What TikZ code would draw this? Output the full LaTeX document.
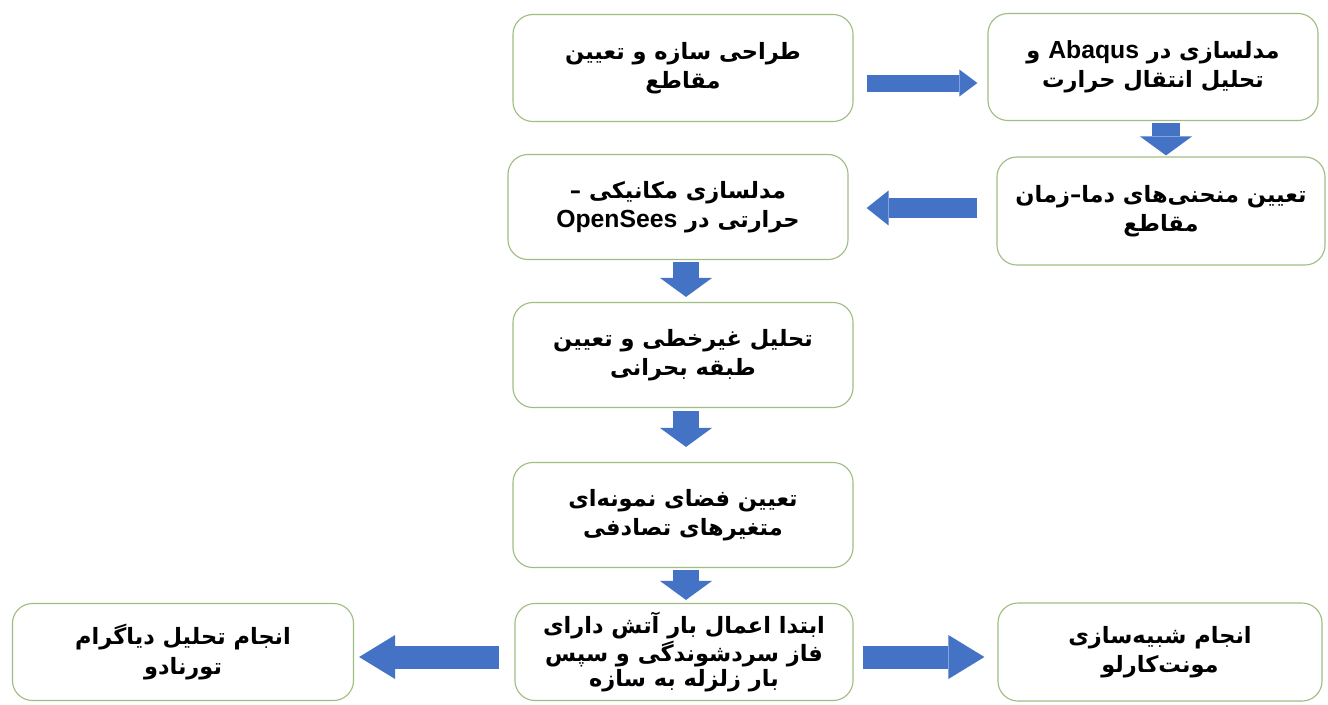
\documentclass[tikz,border=0pt]{standalone}
\usepackage{fontspec}
\usetikzlibrary{arrows.meta,calc}
\TeXXeTstate=1
\newfontfamily\fafont[Script=Arabic]{DejaVu Sans}
\newfontfamily\enfont[Scale=1.1]{Liberation Sans}
\newcommand{\fa}[1]{\beginR#1\endR}
\newcommand{\en}[1]{\beginL{\enfont #1}\endL{}}
\definecolor{arrowblue}{RGB}{68,114,196}
\definecolor{boxgreen}{RGB}{160,190,130}
\tikzset{
  stage/.style={draw=boxgreen, line width=0.8pt, rounded corners=0.5cm, fill=white, align=center, inner sep=2pt, font=\fafont\bfseries\fontsize{16}{21}\selectfont},
  flow/.style n args={3}{draw=arrowblue, line width=#1, -{Triangle[width=#2,length=#3,line width=0pt]}}
}
\begin{document}
\begin{tikzpicture}[x=0.025cm, y=-0.025cm]

  \fill[white] (0,0) rectangle (1328,704);
  \useasboundingbox (0,0) rectangle (1328,704);

  % Top row
  \node[stage, minimum width=8.5cm, minimum height=2.675cm] (design) at (683,68) {\fa{طراحی سازه و تعیین}\\\fa{مقاطع}};
  \node[stage, minimum width=8.25cm, minimum height=2.675cm] (abaqus) at (1153,67) {\fa{مدلسازی در \en{Abaqus} و}\\\fa{تحلیل انتقال حرارت}};

  % Second row
  \node[stage, minimum width=8.5cm, minimum height=2.625cm] (opensees) at (678,207) {\fa{مدلسازی مکانیکی –}\\\fa{حرارتی در \en{OpenSees}}};
  \node[stage, minimum width=8.2cm, minimum height=2.7cm] (curves) at (1161,211) {\fa{تعیین منحنی^^^^200cهای دما–زمان}\\\fa{مقاطع}};

  % Middle column
  \node[stage, minimum width=8.5cm, minimum height=2.625cm] (nonlin) at (683,355) {\fa{تحلیل غیرخطی و تعیین}\\\fa{طبقه بحرانی}};
  \node[stage, minimum width=8.5cm, minimum height=2.625cm] (sample) at (683,515) {\fa{تعیین فضای نمونه^^^^200cای}\\\fa{متغیرهای تصادفی}};

  % Bottom row
  \node[stage, font=\fafont\bfseries\fontsize{16}{18}\selectfont, minimum width=8.45cm, minimum height=2.425cm] (fire) at (684,652) {\fa{ابتدا اعمال بار آتش دارای}\\\fa{فاز سردشوندگی و سپس}\\\fa{بار زلزله به سازه}};
  \node[stage, minimum width=8.525cm, minimum height=2.425cm] (tornado) at (183,652) {\fa{انجام تحلیل دیاگرام}\\\fa{تورنادو}};
  \node[stage, minimum width=8.1cm, minimum height=2.45cm] (monte) at (1160,652) {\fa{انجام شبیه^^^^200cسازی}\\\fa{مونت^^^^200cکارلو}};

  % Block arrows
  \draw[flow={0.425cm}{0.675cm}{0.45cm}] ($(design.east)+(13,15)$) -- ($(abaqus.west)+(-10,16)$);
  \draw[flow={0.7cm}{1.3cm}{0.475cm}] ($(abaqus.south)+(13,2)$) -- ($(curves.north)+(5,-1)$);
  \draw[flow={0.5cm}{0.875cm}{0.55cm}] ($(curves.west)+(-19,-3)$) -- ($(opensees.east)+(18,1)$);
  \draw[flow={0.65cm}{1.3cm}{0.475cm}] ($(opensees.south)+(8,2)$) -- ($(nonlin.north)+(3,-5)$);
  \draw[flow={0.65cm}{1.3cm}{0.475cm}] ($(nonlin.south)+(3,3)$) -- ($(sample.north)+(3,-15)$);
  \draw[flow={0.65cm}{1.3cm}{0.475cm}] ($(sample.south)+(3,2)$) -- ($(fire.north)+(2,-3)$);
  \draw[flow={0.575cm}{1.1cm}{0.9cm}] ($(fire.west)+(-15,5)$) -- ($(tornado.east)+(5,5)$);
  \draw[flow={0.575cm}{1.1cm}{0.9cm}] ($(fire.east)+(9,5)$) -- ($(monte.west)+(-13,5)$);

\end{tikzpicture}
\end{document}
